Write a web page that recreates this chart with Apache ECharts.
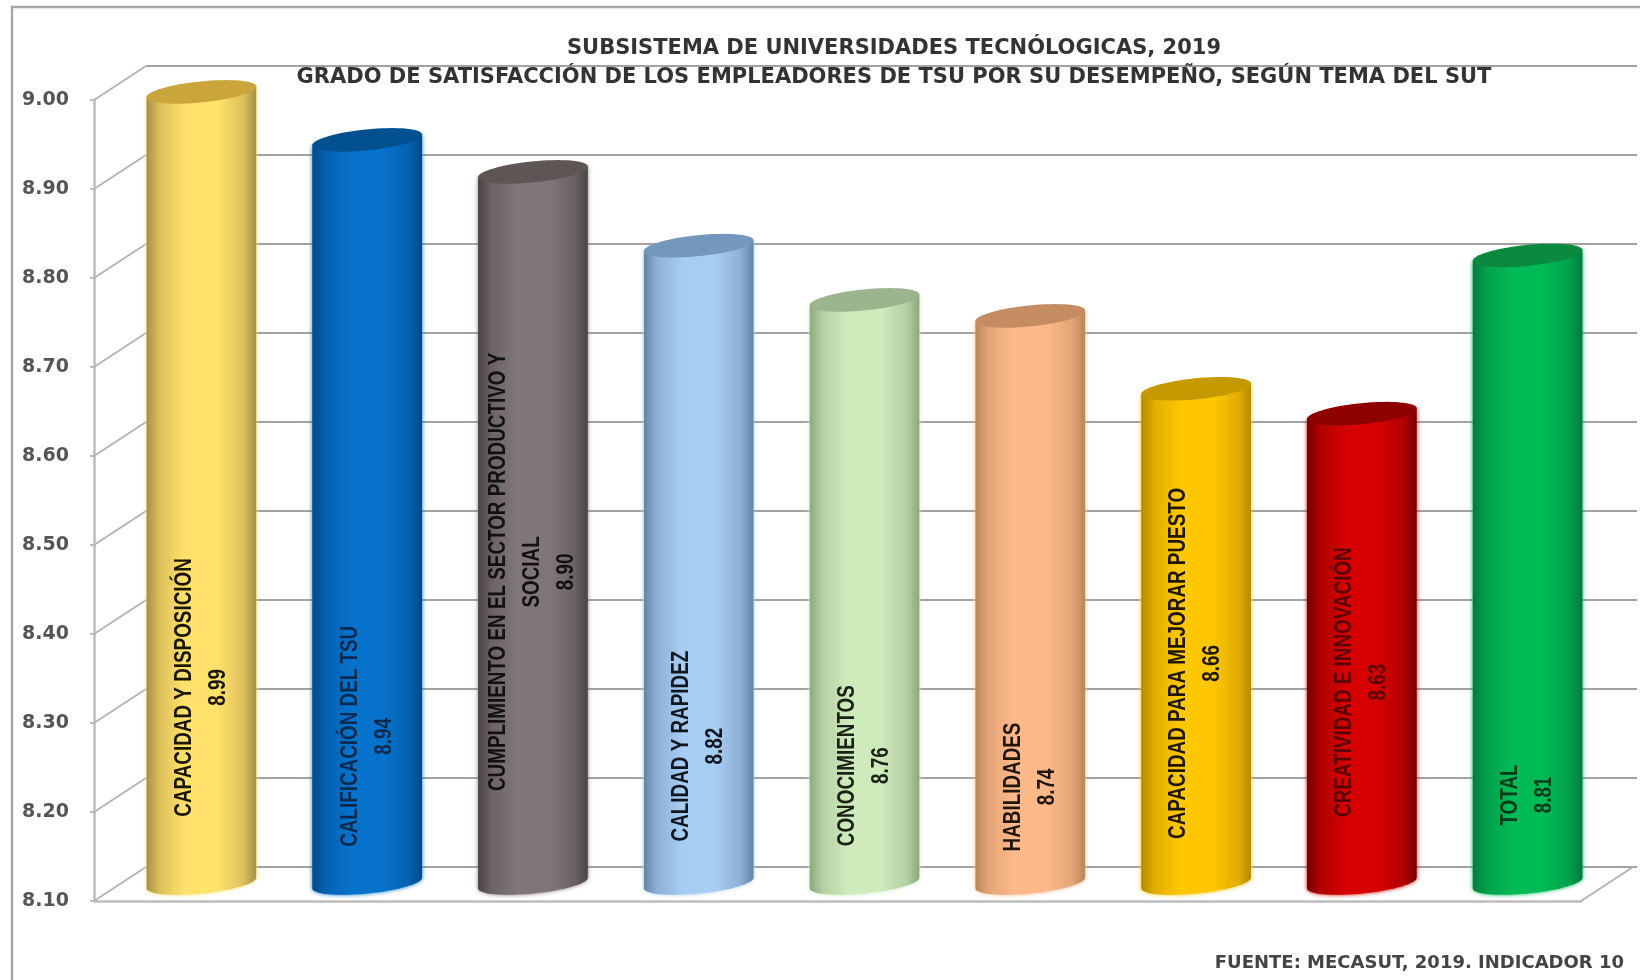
<!DOCTYPE html>
<html>
<head>
<meta charset="utf-8">
<title>Grado de satisfacción</title>
<script src="https://cdn.jsdelivr.net/npm/echarts@6/dist/echarts.min.js"></script>
<style>
html, body { margin: 0; padding: 0; background: #fff; overflow: hidden; }
#chart { width: 1640px; height: 980px; }
</style>
</head>
<body>
<div id="chart"></div>
<script>
// datos
const categories = [
  'CAPACIDAD Y DISPOSICIÓN',
  'CALIFICACIÓN DEL TSU',
  'CUMPLIMIENTO EN EL SECTOR PRODUCTIVO Y\nSOCIAL',
  'CALIDAD Y RAPIDEZ',
  'CONOCIMIENTOS',
  'HABILIDADES',
  'CAPACIDAD PARA MEJORAR PUESTO',
  'CREATIVIDAD E INNOVACIÓN',
  'TOTAL'
]
const values = [8.99, 8.936, 8.90, 8.817, 8.756, 8.738, 8.656, 8.628, 8.806]
const tickValues = [8.1, 8.2, 8.3, 8.4, 8.5, 8.6, 8.7, 8.8, 8.9, 9.0]
const titleLines = [
  'SUBSISTEMA DE UNIVERSIDADES TECNÓLOGICAS, 2019',
  'GRADO DE SATISFACCIÓN DE LOS EMPLEADORES DE TSU POR SU DESEMPEÑO, SEGÚN TEMA DEL SUT'
]
const sourceText = 'FUENTE: MECASUT, 2019. INDICADOR 10'

// colores por barra: borde, centro, tapa, texto
const barEdge = ['#a88f45', '#004a86', '#4a4443', '#6584a6', '#8ea87f', '#b98659', '#b58900', '#760000', '#067a3c']
const barMid = ['#ffe26b', '#0672cc', '#80767a', '#a8cdf2', '#cfeabb', '#fdb98a', '#ffc700', '#d60000', '#00ba55']
const barTop = ['#c9a53b', '#00508f', '#5e5655', '#7498bd', '#9db58e', '#c58c62', '#c59a00', '#8e0000', '#0a8a3e']
const textColor = ['#1a1500', '#0a2a50', '#111111', '#10161f', '#1a2216', '#21160c', '#1f1700', '#5a0000', '#003a1a']
// altura del centro de cada rotulo, en unidades del eje
const labelLevels = [8.32, 8.265, 8.45, 8.254, 8.232, 8.208, 8.347, 8.326, 8.199]

const yMin = 8.1, yMax = 9.0, yStep = 0.1
const front = { left: 94, top: 100, width: 1487, height: 801 }
const back = { left: 146, top: 66, width: 1491, height: 801 }
const middle = { left: 118.5, top: 83, width: 1492, height: 800 }
const depth = [back.left - front.left, back.top - front.top]
const tilt = 0.1, capRy = 10.5

function ellipsePoint(cx, cy, a, b, t) {
  const x = a * Math.cos(t), y = b * Math.sin(t)
  return [cx + x * Math.cos(tilt) + y * Math.sin(tilt), cy - x * Math.sin(tilt) + y * Math.cos(tilt)]
}

function renderWall(params, api) {
  const p = api.coord([api.value(0), api.value(1)])
  return {
    type: 'line',
    shape: { x1: p[0], y1: p[1], x2: p[0] + depth[0], y2: p[1] + depth[1] },
    style: { stroke: '#b4b4b4', lineWidth: 2 }
  }
}

function renderCylinder(params, api) {
  const i = api.value(0)
  const top = api.coord([i, api.value(1)])
  const base = api.coord([i, yMin])
  const a = api.size([1, 0])[0] * 0.665 / 2
  const body = [ellipsePoint(top[0], top[1], a, capRy, Math.PI), ellipsePoint(top[0], top[1], a, capRy, 0)]
  for (let k = 0; k <= 32; k++) body.push(ellipsePoint(base[0], base[1], a, capRy, Math.PI * k / 32))
  const cap = []
  for (let k = 0; k < 64; k++) cap.push(ellipsePoint(top[0], top[1], a, capRy, Math.PI * 2 * k / 64))
  const side = echarts.color.lerp(0.6, [barEdge[i], barMid[i]])
  return {
    type: 'group',
    children: [
      {
        type: 'polygon',
        shape: { points: body },
        style: {
          shadowBlur: 4,
          shadowColor: barMid[i],
          fill: {
            type: 'linear', x: 0, y: 0, x2: 1, y2: 0,
            colorStops: [
              { offset: 0, color: barEdge[i] },
              { offset: 0.12, color: side },
              { offset: 0.35, color: barMid[i] },
              { offset: 0.65, color: barMid[i] },
              { offset: 0.88, color: side },
              { offset: 1, color: barEdge[i] }
            ]
          }
        }
      },
      { type: 'polygon', shape: { points: cap }, style: { fill: barTop[i] } },
      {
        type: 'text',
        x: top[0],
        y: api.coord([i, labelLevels[i]])[1],
        rotation: Math.PI / 2,
        scaleX: 0.82,
        style: {
          text: categories[i] + '\n' + api.value(1).toFixed(2),
          fontFamily: '"Liberation Sans", sans-serif',
          fontWeight: 'bold',
          fontSize: 23,
          lineHeight: 34,
          align: 'center',
          verticalAlign: 'middle',
          fill: textColor[i]
        }
      }
    ]
  }
}

const chart = echarts.init(document.getElementById('chart'))
chart.setOption({
  animation: false,
  backgroundColor: '#fff',
  title: [
    {
      text: titleLines.join('\n'),
      left: 889,
      top: 29,
      textAlign: 'center',
      textStyle: { fontFamily: '"DejaVu Sans", sans-serif', fontWeight: 'bold', fontSize: 21, lineHeight: 29, color: '#333' }
    },
    {
      text: sourceText,
      right: 11,
      top: 949,
      textStyle: { fontFamily: '"DejaVu Sans", sans-serif', fontWeight: 'bold', fontSize: 18, color: '#444' }
    }
  ],
  graphic: [
    { type: 'rect', shape: { x: 12, y: 7, width: 1800, height: 1200 }, style: { fill: 'none', stroke: '#a8a8a8', lineWidth: 2.5 }, silent: true }
  ],
  grid: [front, back, middle],
  xAxis: [
    {
      gridIndex: 0, type: 'value', min: 0, max: 9, interval: 1,
      axisLine: { show: true, onZero: false, lineStyle: { color: '#bdbdbd', width: 2.5 } },
      axisTick: { show: false }, axisLabel: { show: false }, splitLine: { show: false }
    },
    { gridIndex: 1, type: 'value', min: 0, max: 9, show: false },
    { gridIndex: 2, type: 'category', data: categories, show: false }
  ],
  yAxis: [
    {
      gridIndex: 0, type: 'value', min: yMin, max: yMax, interval: yStep,
      axisLine: { show: true, lineStyle: { color: '#bdbdbd', width: 2.5 } },
      axisTick: { show: true, length: 4, lineStyle: { color: '#bdbdbd', width: 2 } },
      axisLabel: {
        margin: 25,
        formatter: v => v.toFixed(2),
        fontFamily: '"DejaVu Sans", sans-serif',
        fontWeight: 'bold',
        fontSize: 19,
        color: '#555',
        verticalAlign: 'middle'
      },
      splitLine: { show: false }
    },
    {
      gridIndex: 1, type: 'value', min: yMin, max: yMax, interval: yStep,
      axisLine: { show: false }, axisTick: { show: false }, axisLabel: { show: false },
      splitLine: { show: true, lineStyle: { color: '#a2a2a2', width: 2 } }
    },
    { gridIndex: 2, type: 'value', min: yMin, max: yMax, show: false, splitLine: { show: false } }
  ],
  series: [
    {
      type: 'custom', xAxisIndex: 0, yAxisIndex: 0, z: 1, silent: true,
      data: tickValues.map(v => [0, v]).concat([[9, yMin]]),
      renderItem: renderWall
    },
    {
      type: 'custom', xAxisIndex: 2, yAxisIndex: 2, z: 3, silent: true,
      data: values.map((v, i) => [i, v]),
      renderItem: renderCylinder
    }
  ]
})
</script>
</body>
</html>
